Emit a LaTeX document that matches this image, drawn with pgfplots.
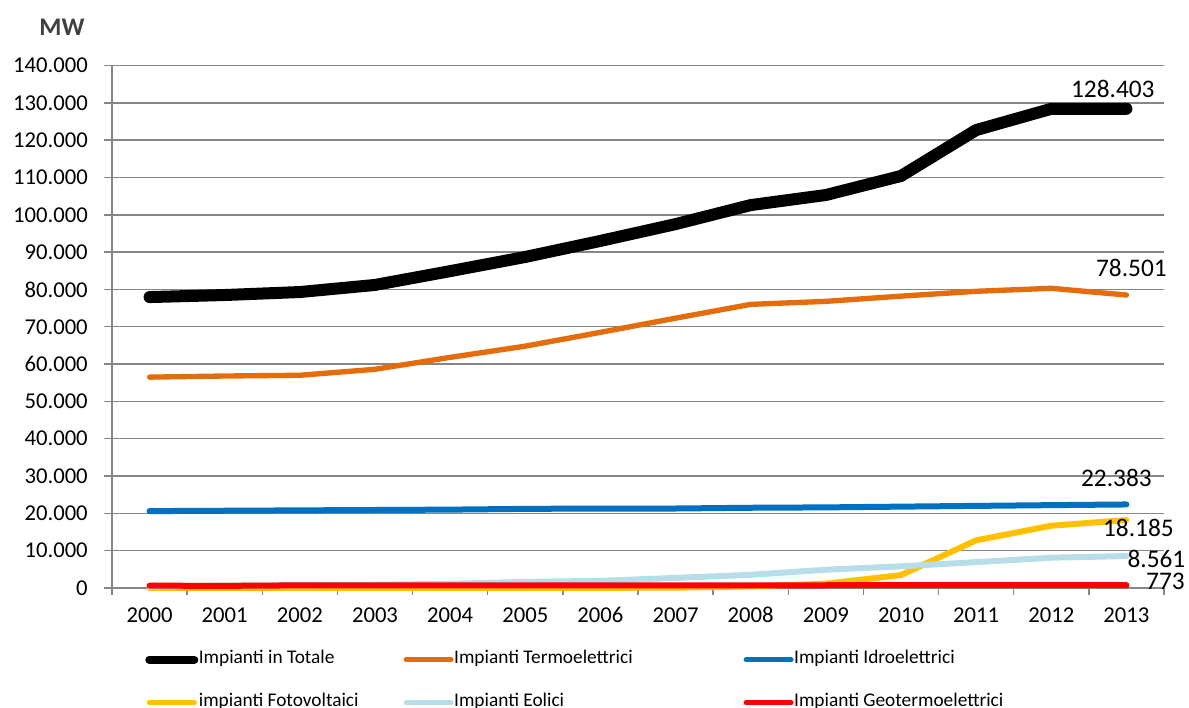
\documentclass[border=0pt]{standalone}
\usepackage{fontspec}
\setmainfont{Carlito}[Numbers=Lining]
\usepackage{pgfplots}
\usepackage{pgfplotstable}
\pgfplotsset{compat=1.18}
\definecolor{cTot}{RGB}{0,0,0}
\definecolor{cTer}{RGB}{228,108,10}
\definecolor{cIdr}{RGB}{0,112,192}
\definecolor{cFot}{RGB}{255,192,0}
\definecolor{cEol}{RGB}{183,221,232}
\definecolor{cGeo}{RGB}{255,0,0}
\definecolor{cGrid}{RGB}{134,134,134}
\definecolor{cMW}{RGB}{64,64,64}

\pgfplotstableread{
x tot ter idr fot eol geo
0 77950 56500 20600 19 363 627
1 78500 56800 20700 20 664 573
2 79300 57000 20800 22 780 707
3 81200 58600 20900 26 874 707
4 84900 61800 21000 31 1131 681
5 88700 64800 21200 34 1639 711
6 93000 68500 21300 50 1908 711
7 97500 72300 21300 87 2714 711
8 102600 76000 21500 432 3538 711
9 105300 76800 21600 1144 4898 737
10 110400 78200 21800 3470 5814 772
11 122700 79500 22000 12773 6936 772
12 128400 80300 22200 16690 8119 772
13 128403 78501 22383 18185 8561 773
}\datatable

\begin{document}
\begin{tikzpicture}
\path[use as bounding box] (-84pt,-89.25pt) rectangle (807.75pt,441pt);
\begin{axis}[
  at={(0,0)}, anchor=south west,
  scale only axis,
  width=789pt, height=391.875pt,
  xmin=-0.5, xmax=13.5,
  ymin=0, ymax=140000,
  clip=false,
  axis x line=bottom, axis y line=left,
  axis line style={cGrid, line width=1.1pt, -},
  xtick={0,...,13},
  xticklabels={2000,2001,2002,2003,2004,2005,2006,2007,2008,2009,2010,2011,2012,2013},
  minor xtick={-0.5,0.5,...,13.5},
  major x tick style={draw=none},
  minor x tick style={cGrid, line width=1.1pt},
  ytick={0,10000,...,140000},
  ymajorgrids=true,
  grid style={cGrid, line width=1.1pt},
  tick align=outside,
  major tick length=6pt,
  minor tick length=5pt,
  ytick style={cGrid, line width=1.1pt},
  tick label style={font=\fontsize{17pt}{20pt}\selectfont, inner sep=0pt},
  yticklabel style={xshift=-12pt},
  xticklabel style={yshift=-9pt, text height=10.8pt, text depth=0pt},
  scaled y ticks=false,
  /pgf/number format/.cd, 1000 sep={.}, fixed, precision=0, assume math mode=true,
  /pgfplots/.cd,
  legend columns=3,
  legend cell align=left,
  legend style={at={(0.0314,-0.1215)}, anchor=north west, draw=none, fill=none,
    inner sep=0pt, column sep=0pt, row sep=20.25pt,
    font=\fontsize{14.5pt}{17pt}\selectfont,
    nodes={inner sep=0pt, text height=9pt, text depth=3pt}},
  every axis plot/.append style={line cap=round, line join=round},
]
\addplot[cTot, line width=9pt,
  legend image code/.code={\draw[cTot,line width=6pt,line cap=round] (0pt,0pt) -- (33.75pt,0pt);}]
  table[x=x,y=tot]{\datatable};
\addlegendentry{\makebox[154pt][l]{\hspace{0.4pt}Impianti in Totale}}
\addplot[cTer, line width=4pt,
  legend image code/.code={\draw[cTer,line width=3.75pt,line cap=round] (0pt,0pt) -- (33.75pt,0pt);}]
  table[x=x,y=ter]{\datatable};
\addlegendentry{\makebox[217.5pt][l]{\hspace{0.4pt}Impianti Termoelettrici}}
\addplot[cIdr, line width=4.5pt,
  legend image code/.code={\draw[cIdr,line width=3.75pt,line cap=round] (0pt,0pt) -- (33.75pt,0pt);}]
  table[x=x,y=idr]{\datatable};
\addlegendentry{\makebox[250pt][l]{\hspace{0.4pt}Impianti Idroelettrici}}
\addplot[cFot, line width=4.5pt,
  legend image code/.code={\draw[cFot,line width=3.75pt,line cap=round] (0pt,0pt) -- (33.75pt,0pt);}]
  table[x=x,y=fot]{\datatable};
\addlegendentry{\makebox[154pt][l]{\hspace{0.4pt}impianti Fotovoltaici}}
\addplot[cEol, line width=4.5pt,
  legend image code/.code={\draw[cEol,line width=3.75pt,line cap=round] (0pt,0pt) -- (33.75pt,0pt);}]
  table[x=x,y=eol]{\datatable};
\addlegendentry{\makebox[217.5pt][l]{\hspace{0.4pt}Impianti Eolici}}
\addplot[cGeo, line width=4.5pt,
  legend image code/.code={\draw[cGeo,line width=3.75pt,line cap=round] (0pt,0pt) -- (33.75pt,0pt);}]
  table[x=x,y=geo]{\datatable};
\addlegendentry{\makebox[250pt][l]{\hspace{0.4pt}Impianti Geotermoelettrici}}

\begin{scope}[every node/.style={font=\fontsize{19pt}{22pt}\selectfont, inner sep=0pt, anchor=center}]
\node[xshift=-10.2pt, yshift=15pt] at (axis cs:13,128403) {128.403};
\node[xshift=3.75pt, yshift=20.25pt] at (axis cs:13,78501) {78.501};
\node[xshift=-7.5pt, yshift=20.25pt] at (axis cs:13,22383) {22.383};
\node[xshift=9pt, yshift=-6pt] at (axis cs:13,18185) {18.185};
\node[xshift=22.5pt, yshift=-2.25pt] at (axis cs:13,8561) {8.561};
\node[xshift=29.25pt, yshift=3pt] at (axis cs:13,773) {773};
\end{scope}
\end{axis}
\node[font=\bfseries\fontsize{19pt}{22pt}\selectfont, text=cMW, inner sep=0pt] at (-37.5pt,420.75pt) {MW};
\end{tikzpicture}
\end{document}
